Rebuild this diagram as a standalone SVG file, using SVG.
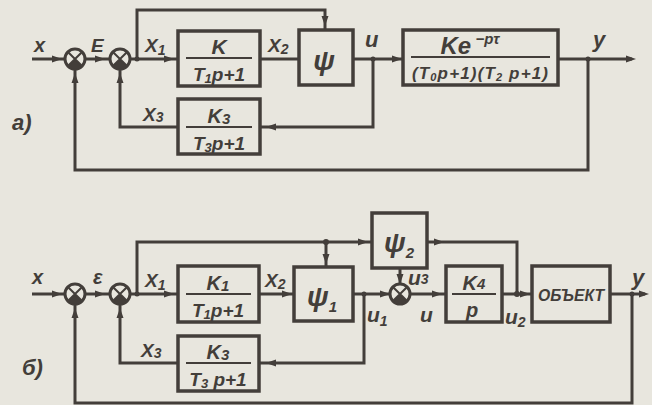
<svg xmlns="http://www.w3.org/2000/svg" xmlns:xlink="http://www.w3.org/1999/xlink" width="652" height="405" viewBox="0 0 652 405">
<style>
.bg{fill:#e8e6de}
.ln{fill:none;stroke:#433e3a;stroke-width:3;stroke-linejoin:miter}
.box{fill:none;stroke:#433e3a;stroke-width:3.5}
.fr{stroke:#433e3a;stroke-width:2}
.t{font-family:"Liberation Sans",Arial,sans-serif;font-style:italic;font-weight:bold;fill:#433e3a}
.ah{fill:#433e3a}
.dot{fill:#433e3a}
</style>
<defs>
<path id="ah" class="ah" d="M-8,-3.5 L2,0 L-8,3.5 Z"/>
<g id="sum">
<circle r="10" fill="#e8e6de" stroke="#433e3a" stroke-width="3"/>
<path d="M0,0 L7.07,7.07 A10,10 0 0 1 -7.07,7.07 Z" fill="#433e3a"/>
<path d="M-7.07,-7.07 L7.07,7.07 M7.07,-7.07 L-7.07,7.07" stroke="#433e3a" stroke-width="2"/>
</g>
</defs>
<rect class="bg" x="0" y="0" width="652" height="405"/>

<g id="connectors">
<!-- diagram a -->
<path class="ln" d="M32,59 H65"/>
<path class="ln" d="M85,59 H110"/>
<path class="ln" d="M130,59 H178"/>
<path class="ln" d="M137,59 V10 H325 V30"/>
<path class="ln" d="M260,59 H299"/>
<path class="ln" d="M353,59 H403"/>
<path class="ln" d="M373,59 V127 H260"/>
<path class="ln" d="M178,127 H120 V69"/>
<path class="ln" d="M558,59 H632"/>
<path class="ln" d="M588,59 V170 H75 V69"/>
<use xlink:href="#ah" transform="translate(60,59)"/>
<use xlink:href="#ah" transform="translate(103,59)"/>
<use xlink:href="#ah" transform="translate(172,59)"/>
<use xlink:href="#ah" transform="translate(325,24) rotate(90)"/>
<use xlink:href="#ah" transform="translate(400,59)"/>
<use xlink:href="#ah" transform="translate(268,127) rotate(180)"/>
<use xlink:href="#ah" transform="translate(634,59)"/>
<use xlink:href="#ah" transform="translate(75,75) rotate(-90)"/>
<use xlink:href="#ah" transform="translate(120,75) rotate(-90)"/>
<circle class="dot" cx="137" cy="59" r="2.5"/>
<circle class="dot" cx="373" cy="59" r="2.5"/>
<circle class="dot" cx="588" cy="59" r="2.5"/>

<!-- diagram b -->
<path class="ln" d="M32,294 H65"/>
<path class="ln" d="M85,294 H110"/>
<path class="ln" d="M130,294 H178"/>
<path class="ln" d="M137,294 V242 H372"/>
<path class="ln" d="M326,242 V267"/>
<path class="ln" d="M259,294 H294"/>
<path class="ln" d="M353,294 H390"/>
<path class="ln" d="M364,294 V363 H259"/>
<path class="ln" d="M178,363 H120 V304"/>
<path class="ln" d="M400,268 V284"/>
<path class="ln" d="M410,294 H446"/>
<path class="ln" d="M427,242 H517 V294"/>
<path class="ln" d="M502,294 H532"/>
<path class="ln" d="M610,294 H645"/>
<path class="ln" d="M632,294 V403 H75 V304"/>
<use xlink:href="#ah" transform="translate(60,294)"/>
<use xlink:href="#ah" transform="translate(103,294)"/>
<use xlink:href="#ah" transform="translate(172,294)"/>
<use xlink:href="#ah" transform="translate(290,294)"/>
<use xlink:href="#ah" transform="translate(366,242)"/>
<use xlink:href="#ah" transform="translate(442,242)"/>
<use xlink:href="#ah" transform="translate(326,262) rotate(90)"/>
<use xlink:href="#ah" transform="translate(388,294)"/>
<use xlink:href="#ah" transform="translate(400,282) rotate(90)"/>
<use xlink:href="#ah" transform="translate(440,294)"/>
<use xlink:href="#ah" transform="translate(528,294)"/>
<use xlink:href="#ah" transform="translate(268,363) rotate(180)"/>
<use xlink:href="#ah" transform="translate(647,294)"/>
<use xlink:href="#ah" transform="translate(75,310) rotate(-90)"/>
<use xlink:href="#ah" transform="translate(120,310) rotate(-90)"/>
<circle class="dot" cx="137" cy="294" r="2.5"/>
<circle class="dot" cx="326" cy="242" r="3"/>
<circle class="dot" cx="364" cy="294" r="2.5"/>
<circle class="dot" cx="517" cy="294" r="3"/>
<circle class="dot" cx="632" cy="294" r="2.5"/>
</g>

<!-- diagram a nodes -->
<g id="a-sum1"><use xlink:href="#sum" transform="translate(75,59)"/></g>
<g id="a-sum2"><use xlink:href="#sum" transform="translate(120,59)"/></g>
<g id="a-K">
<rect class="box" x="178" y="31" width="82" height="55"/>
<line class="fr" x1="186" y1="58" x2="252" y2="58"/>
<text class="t" x="219" y="54" font-size="21" text-anchor="middle">K</text>
<text class="t" x="219" y="81" font-size="19" text-anchor="middle">T<tspan font-size="13" dy="2">1</tspan><tspan dy="-2">p+1</tspan></text>
</g>
<g id="a-psi">
<rect class="box" x="299" y="30" width="54" height="55"/>
<text class="t" x="324" y="70" font-size="28" text-anchor="middle">ψ</text>
</g>
<g id="a-plant">
<rect class="box" x="403" y="30" width="155" height="55"/>
<line class="fr" x1="411" y1="57" x2="550" y2="57"/>
<text class="t" x="470" y="54" font-size="24" text-anchor="middle">Ke<tspan font-size="15" dy="-10"> −pτ</tspan></text>
<text class="t" x="412" y="79" font-size="17" textLength="136" lengthAdjust="spacing">(T<tspan font-size="11" dy="2">0</tspan><tspan dy="-2">p+1)(T</tspan><tspan font-size="11" dy="2">2</tspan><tspan dy="-2"> p+1)</tspan></text>
</g>
<g id="a-K3">
<rect class="box" x="178" y="99" width="82" height="55"/>
<line class="fr" x1="186" y1="127" x2="252" y2="127"/>
<text class="t" x="219" y="123" font-size="20" text-anchor="middle">K<tspan font-size="15" dy="1">3</tspan></text>
<text class="t" x="219" y="150" font-size="19" text-anchor="middle">T<tspan font-size="13" dy="2">3</tspan><tspan dy="-2">p+1</tspan></text>
</g>
<g id="a-labels">
<text class="t" x="34" y="52" font-size="20">x</text>
<text class="t" x="91" y="52" font-size="19">E</text>
<text class="t" x="145" y="52" font-size="19">X<tspan font-size="14" dy="3">1</tspan></text>
<text class="t" x="268" y="52" font-size="19">X<tspan font-size="14" dy="2">2</tspan></text>
<text class="t" x="365" y="47" font-size="22">u</text>
<text class="t" x="593" y="47" font-size="22">y</text>
<text class="t" x="143" y="121" font-size="19">X<tspan font-size="14" dy="1">3</tspan></text>
<text class="t" x="12" y="130" font-size="22">a)</text>
</g>

<!-- diagram b nodes -->
<g id="b-sum1"><use xlink:href="#sum" transform="translate(75,294)"/></g>
<g id="b-sum2"><use xlink:href="#sum" transform="translate(120,294)"/></g>
<g id="b-sum3"><use xlink:href="#sum" transform="translate(400,294)"/></g>
<g id="b-K1">
<rect class="box" x="178" y="266" width="81" height="56"/>
<line class="fr" x1="186" y1="294" x2="251" y2="294"/>
<text class="t" x="218" y="290" font-size="20" text-anchor="middle">K<tspan font-size="15" dy="1">1</tspan></text>
<text class="t" x="218" y="317" font-size="19" text-anchor="middle">T<tspan font-size="13" dy="2">1</tspan><tspan dy="-2">p+1</tspan></text>
</g>
<g id="b-psi1">
<rect class="box" x="294" y="267" width="59" height="54"/>
<text class="t" x="322" y="306" font-size="28" text-anchor="middle">ψ<tspan font-size="15" dy="6">1</tspan></text>
</g>
<g id="b-psi2">
<rect class="box" x="372" y="213" width="55" height="55"/>
<text class="t" x="399" y="252" font-size="28" text-anchor="middle">ψ<tspan font-size="15" dy="6">2</tspan></text>
</g>
<g id="b-K4">
<rect class="box" x="446" y="266" width="56" height="56"/>
<line class="fr" x1="452" y1="294" x2="496" y2="294"/>
<text class="t" x="474" y="290" font-size="20" text-anchor="middle">K<tspan font-size="15" dy="-1">4</tspan></text>
<text class="t" x="472" y="317" font-size="20" text-anchor="middle">p</text>
</g>
<g id="b-object">
<rect class="box" x="532" y="266" width="78" height="56"/>
<text class="t" x="571" y="301" font-size="16" text-anchor="middle" textLength="66" lengthAdjust="spacingAndGlyphs">ОБЪЕКТ</text>
</g>
<g id="b-K3">
<rect class="box" x="178" y="336" width="81" height="55"/>
<line class="fr" x1="186" y1="363" x2="251" y2="363"/>
<text class="t" x="218" y="359" font-size="20" text-anchor="middle">K<tspan font-size="15" dy="1">3</tspan></text>
<text class="t" x="218" y="386" font-size="19" text-anchor="middle">T<tspan font-size="13" dy="2">3</tspan><tspan dy="-2"> p+1</tspan></text>
</g>
<g id="b-labels">
<text class="t" x="32" y="284" font-size="20">x</text>
<text class="t" x="93" y="284" font-size="20">ε</text>
<text class="t" x="145" y="287" font-size="19">X<tspan font-size="14" dy="3">1</tspan></text>
<text class="t" x="265" y="287" font-size="19">X<tspan font-size="14" dy="2">2</tspan></text>
<text class="t" x="141" y="357" font-size="19">X<tspan font-size="14" dy="1">3</tspan></text>
<text class="t" x="367" y="322" font-size="21">u<tspan font-size="14" dy="4">1</tspan></text>
<text class="t" x="420" y="322" font-size="21">u</text>
<text class="t" x="408" y="285" font-size="21">u<tspan font-size="14" dy="-1">3</tspan></text>
<text class="t" x="505" y="324" font-size="21">u<tspan font-size="14" dy="3">2</tspan></text>
<text class="t" x="632" y="285" font-size="22">y</text>
<text class="t" x="22" y="375" font-size="22">б)</text>
</g>
</svg>
